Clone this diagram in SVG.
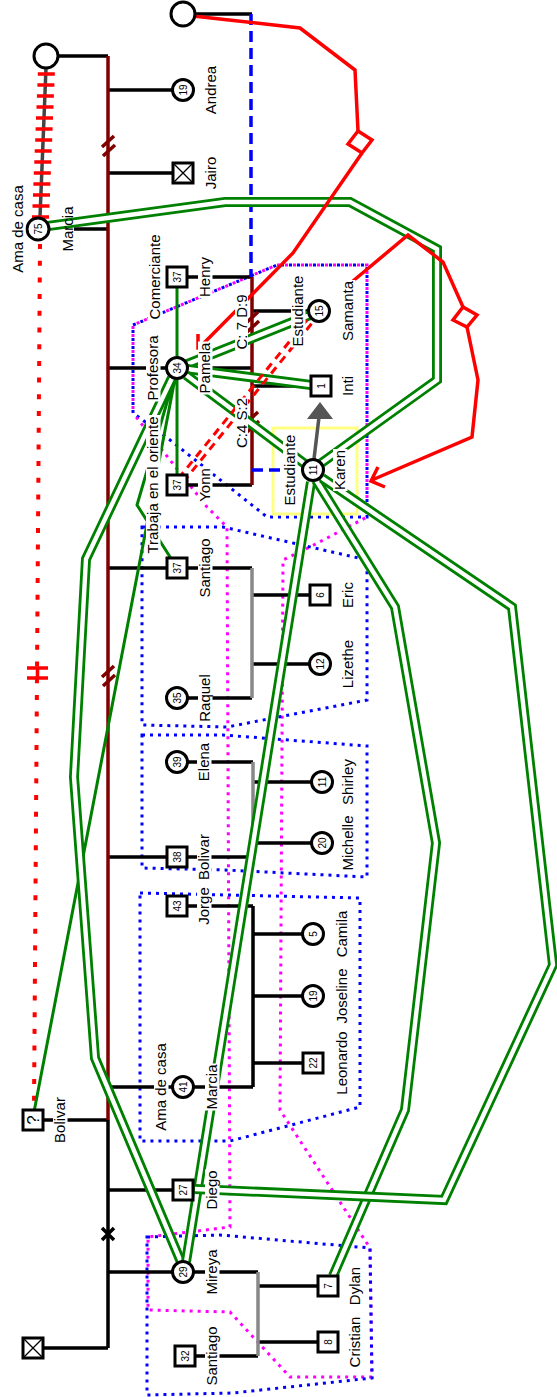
<svg xmlns="http://www.w3.org/2000/svg" width="557" height="1397" viewBox="0 0 557 1397">
<defs>
<style>
.t{font-family:"Liberation Sans",Arial,sans-serif;font-size:15px;fill:#000;text-anchor:middle;dominant-baseline:central}
.n{font-family:"Liberation Sans",Arial,sans-serif;font-size:10px;fill:#000;text-anchor:middle;dominant-baseline:central}
.q{font-family:"Liberation Sans",Arial,sans-serif;font-size:17px;fill:#000;text-anchor:middle;dominant-baseline:central}
.bg{fill:#fff}
.sh{fill:#fff;stroke:#000;stroke-width:3}
.x{stroke:#000;stroke-width:1.3;fill:none}
.k{stroke:#000;stroke-width:3.5;fill:none}
.br{stroke:#800000;stroke-width:3.5;fill:none}
.gy{stroke:#888;stroke-width:3.5;fill:none}
.g1{stroke:#008000;stroke-width:3;fill:none}
.g2{stroke:#008000;stroke-width:10;fill:none;stroke-linejoin:miter}
.g2w{stroke:#fff;stroke-width:4.4;fill:none;stroke-linejoin:miter}
.r{stroke:#f00;stroke-width:3.5;fill:none}
.rw{stroke:#f00;stroke-width:3.5;fill:#fff}
.rd{stroke:#f00;stroke-width:3;stroke-dasharray:8 6;fill:none}
.rdot{stroke:#f00;stroke-width:4;stroke-dasharray:5 11.7;fill:none}
.bd{stroke:#00f;stroke-width:3.5;stroke-dasharray:11 6;fill:none}
.bb{stroke:#00f;stroke-width:3;stroke-dasharray:3 5;fill:none}
.mb{stroke:#f0f;stroke-width:3;stroke-dasharray:3 5;stroke-dashoffset:4;fill:none}
.yb{stroke:#ffff80;stroke-width:3;fill:none}
</style>
<path id="gA" d="M48,226 L225,202 L350,202 L437,249 L437,380 L320,464"/>
<path id="gB" d="M322,478 L512,607 L553,965 L444,1200 L195,1189"/>
<path id="gC" d="M316,480 L395,607 L436,843 L405,1110 L333,1276"/>
<path id="gD" d="M311,482 L186,1262"/>
<path id="gE" d="M172,378 L86,559 L74,777 L95,1058 L181,1262"/>
<path id="gF" d="M185,365 L310,315"/>
<path id="gG" d="M187,369 L311,385"/>
<path id="gH" d="M186,375 L305,464"/>
</defs>
<rect width="557" height="1397" fill="#fff"/>

<g id="boundaries">
<path class="bb" d="M133,413 L133,325 L277,265 L367,265 L367,517 L267,517 L170,440 Z"/>
<path class="mb" d="M133,413 L133,325 L277,265 L367,265 L367,517 L310,547 L283,560 L280,1110 L370,1248 L372,1377 L290,1377 L230,1312 L148,1310 L148,1237 L230,1227 L227,527 L207,507 Z"/>
<path class="bb" d="M142,527 L223,527 L367,560 L367,700 L227,727 L142,725 Z"/>
<path class="bb" d="M142,735 L223,735 L367,746 L367,877 L225,870 L142,868 Z"/>
<path class="bb" d="M140,893 L360,898 L360,1107 L230,1141 L140,1141 Z"/>
<path class="bb" d="M147,1237 L220,1235 L370,1248 L372,1378 L233,1393 L147,1395 Z"/>
<rect class="yb" x="273" y="428" width="84" height="86"/>
</g>

<g id="connectors">
<path class="k" d="M58,56 H108 M108,90 H183 M108,173 H183 M74,229 H108 M108,368 H252 M108,568 H252 M108,857 H253 M108,1087 H253 M33,1120 H108 M108,1190 H183 M108,1272 H258 M33,1348 H108 M108,1120 V1348"/>
<path class="k" d="M195,14 H252 M177,277 H252 M177,485 H252 M252,311 H319 M252,386 H321"/>
<path class="k" d="M177,698 H252 M252,595 H320 M252,664 H320 M177,762 H253 M253,782 H322 M253,843 H322"/>
<path class="k" d="M177,906 H253 M253,934 H313 M253,996 H313 M253,1063 H313 M253,906 V1087"/>
<path class="k" d="M185,1356 H258 M258,1286 H328 M258,1342 H328"/>
<path class="gy" d="M252,568 V698 M253,762 V857 M258,1272 V1356"/>
<path class="br" d="M108,56 V1120 M252,277 V485"/>
<path class="br" stroke-width="3" d="M114,136 L102,147 M115,145 L103,156 M114,666 L102,677 M115,675 L103,686 M258,312 L246,323 M259,321 L247,332 M258,412 L246,423 M259,421 L247,432"/>
<path class="k" d="M102,1228 L114,1240 M114,1228 L102,1240"/>
<path class="bd" d="M251,14 V277 M252,470 H302"/>
<path stroke="#444" stroke-width="3.5" fill="none" d="M46,68 L40,217"/>
<path class="r" stroke-width="4" d="M37.8,74 h17 M37.4,85 h17 M36.9,96 h17 M36.5,107 h17 M36,118 h17 M35.6,129 h17 M35.2,140 h17 M34.7,151 h17 M34.3,162 h17 M33.8,173 h17 M33.4,184 h17 M33,195 h17 M32.5,206 h17 M32,217 h17"/>
<path class="rdot" d="M40,244 L34,1108"/>
<path class="r" stroke-width="4" d="M27,668 H48 M27,678 H48 M37.5,668 V678"/>
<path class="g1" d="M177,277 V485 M177,368 L137,505 L172,560 M177,368 L34,1112"/>
<use href="#gE" class="g2"/><use href="#gE" class="g2w"/>
<use href="#gA" class="g2"/><use href="#gA" class="g2w"/>
<use href="#gF" class="g2"/><use href="#gF" class="g2w"/>
<use href="#gG" class="g2"/><use href="#gG" class="g2w"/>
<use href="#gH" class="g2"/><use href="#gH" class="g2w"/>
<use href="#gD" class="g2"/><use href="#gD" class="g2w"/>
<use href="#gC" class="g2"/><use href="#gC" class="g2w"/>
<use href="#gB" class="g2"/><use href="#gB" class="g2w"/>
<path class="r" d="M193,16 L300,28 L355,70 L358,131 M362,153 L293,253 L199,348 M198,334 L198,348 L212,348"/>
<polygon class="rw" points="358,131 372,140 362,153 348,144"/>
<path class="r" d="M353,281 L408,235 L443,262 L463,307 M467,327 L478,380 L472,437 L372,480 M378,467 L371,481 L385,487"/>
<polygon class="rw" points="463,307 477,315 467,327 453,320"/>
<path class="rd" d="M320.3,312.9 L179.3,486.9 M315.7,309.1 L174.7,483.1"/>
<path stroke="#555" stroke-width="3.5" d="M314,459 L319,417"/>
<polygon fill="#555" points="320,402 307,419 333,419"/>
</g>

<g id="relation-labels">
<g transform="translate(241,322) rotate(-90)"><rect class="bg" x="-28" y="-6" width="56" height="13"/><text class="t">C: 7 D:9</text></g>
<g transform="translate(241,423) rotate(-90)"><rect class="bg" x="-25.5" y="-6" width="51" height="13"/><text class="t">C:4 S:2</text></g>
</g>

<g id="n-top1"><circle class="sh" cx="46" cy="56" r="12"/></g>
<g id="n-top2"><circle class="sh" cx="183" cy="14" r="12"/></g>
<g id="n-andrea"><circle class="sh" cx="183" cy="90" r="10.5"/><text class="n" transform="translate(183,90) rotate(-90)">19</text>
<g transform="translate(210,90) rotate(-90)"><rect class="bg" x="-25" y="-6" width="50" height="14.5"/><text class="t">Andrea</text></g></g>
<g id="n-jairo"><rect class="sh" x="173" y="163" width="20" height="20"/><path class="x" d="M173,163 L193,183 M193,163 L173,183"/>
<g transform="translate(210,173) rotate(-90)"><rect class="bg" x="-17.5" y="-6" width="35" height="14.5"/><text class="t">Jairo</text></g></g>
<g id="n-marcia75"><circle class="sh" cx="38" cy="229" r="11"/><text class="n" transform="translate(38,229) rotate(-90)">75</text>
<text class="t" transform="translate(67,229) rotate(-90)">Marcia</text>
<g transform="translate(17,229) rotate(-90)"><rect class="bg" x="-45" y="-6" width="90" height="14.5"/><text class="t">Ama de casa</text></g></g>
<g id="n-henry"><rect class="sh" x="167" y="267" width="20" height="20"/><text class="n" transform="translate(177,277) rotate(-90)">37</text>
<g transform="translate(204,277) rotate(-90)"><rect class="bg" x="-21" y="-6" width="42" height="14.5"/><text class="t">Henry</text></g>
<g transform="translate(154,277) rotate(-90)"><rect class="bg" x="-43.5" y="-6" width="87" height="14.5"/><text class="t">Comerciante</text></g></g>
<g id="n-pamela"><circle class="sh" cx="177" cy="368" r="10.5"/><text class="n" transform="translate(177,368) rotate(-90)">34</text>
<g transform="translate(204,368) rotate(-90)"><rect class="bg" x="-26.5" y="-6" width="53" height="14.5"/><text class="t">Pamela</text></g>
<g transform="translate(152,368) rotate(-90)"><rect class="bg" x="-33.5" y="-6" width="67" height="14.5"/><text class="t">Profesora</text></g></g>
<g id="n-yonn"><rect class="sh" x="167" y="475" width="20" height="20"/><text class="n" transform="translate(177,485) rotate(-90)">37</text>
<g transform="translate(204,485) rotate(-90)"><rect class="bg" x="-18.5" y="-6" width="37" height="14.5"/><text class="t">Yonn</text></g>
<g transform="translate(152,485) rotate(-90)"><rect class="bg" x="-70" y="-6" width="140" height="14.5"/><text class="t">Trabaja en el oriente</text></g></g>
<g id="n-samanta"><circle class="sh" cx="319" cy="311" r="10.5"/><text class="n" transform="translate(319,311) rotate(-90)">15</text>
<g transform="translate(297,311) rotate(-90)"><rect class="bg" x="-36.5" y="-6" width="73" height="14.5"/><text class="t">Estudiante</text></g>
<g transform="translate(347,311) rotate(-90)"><rect class="bg" x="-31" y="-6" width="62" height="14.5"/><text class="t">Samanta</text></g></g>
<g id="n-inti"><rect class="sh" x="311" y="376" width="20" height="20"/><text class="n" transform="translate(321,386) rotate(-90)">1</text>
<g transform="translate(347,386) rotate(-90)"><rect class="bg" x="-11" y="-6" width="22" height="14.5"/><text class="t">Inti</text></g></g>
<g id="n-karen"><circle class="sh" cx="313" cy="470" r="10.5"/><text class="n" transform="translate(313,470) rotate(-90)">11</text>
<g transform="translate(289,470) rotate(-90)"><rect class="bg" x="-36.5" y="-6" width="73" height="14.5"/><text class="t">Estudiante</text></g>
<g transform="translate(339,470) rotate(-90)"><rect class="bg" x="-21" y="-6" width="42" height="14.5"/><text class="t">Karen</text></g></g>
<g id="n-santiago37"><rect class="sh" x="167" y="558" width="20" height="20"/><text class="n" transform="translate(177,568) rotate(-90)">37</text>
<g transform="translate(204,568) rotate(-90)"><rect class="bg" x="-30.5" y="-6" width="61" height="14.5"/><text class="t">Santiago</text></g></g>
<g id="n-raquel"><circle class="sh" cx="177" cy="698" r="10.5"/><text class="n" transform="translate(177,698) rotate(-90)">35</text>
<g transform="translate(204,698) rotate(-90)"><rect class="bg" x="-25" y="-6" width="50" height="14.5"/><text class="t">Raquel</text></g></g>
<g id="n-eric"><rect class="sh" x="310" y="585" width="20" height="20"/><text class="n" transform="translate(320,595) rotate(-90)">6</text>
<g transform="translate(347,595) rotate(-90)"><rect class="bg" x="-14" y="-6" width="28" height="14.5"/><text class="t">Eric</text></g></g>
<g id="n-lizethe"><circle class="sh" cx="320" cy="664" r="10.5"/><text class="n" transform="translate(320,664) rotate(-90)">12</text>
<g transform="translate(347,664) rotate(-90)"><rect class="bg" x="-25" y="-6" width="50" height="14.5"/><text class="t">Lizethe</text></g></g>
<g id="n-elena"><circle class="sh" cx="177" cy="762" r="10.5"/><text class="n" transform="translate(177,762) rotate(-90)">39</text>
<g transform="translate(203,762) rotate(-90)"><rect class="bg" x="-20" y="-6" width="40" height="14.5"/><text class="t">Elena</text></g></g>
<g id="n-bolivar38"><rect class="sh" x="167" y="847" width="20" height="20"/><text class="n" transform="translate(177,857) rotate(-90)">38</text>
<g transform="translate(203,857) rotate(-90)"><rect class="bg" x="-24" y="-6" width="48" height="14.5"/><text class="t">Bolivar</text></g></g>
<g id="n-shirley"><circle class="sh" cx="322" cy="782" r="10.5"/><text class="n" transform="translate(322,782) rotate(-90)">11</text>
<g transform="translate(347,782) rotate(-90)"><rect class="bg" x="-24" y="-6" width="48" height="14.5"/><text class="t">Shirley</text></g></g>
<g id="n-michelle"><circle class="sh" cx="322" cy="843" r="10.5"/><text class="n" transform="translate(322,843) rotate(-90)">20</text>
<g transform="translate(347,843) rotate(-90)"><rect class="bg" x="-28.5" y="-6" width="57" height="14.5"/><text class="t">Michelle</text></g></g>
<g id="n-jorge"><rect class="sh" x="167" y="896" width="20" height="20"/><text class="n" transform="translate(177,906) rotate(-90)">43</text>
<g transform="translate(203,906) rotate(-90)"><rect class="bg" x="-20" y="-6" width="40" height="14.5"/><text class="t">Jorge</text></g></g>
<g id="n-camila"><circle class="sh" cx="313" cy="934" r="10.5"/><text class="n" transform="translate(313,934) rotate(-90)">5</text>
<g transform="translate(341,934) rotate(-90)"><rect class="bg" x="-24.5" y="-6" width="49" height="14.5"/><text class="t">Camila</text></g></g>
<g id="n-joseline"><circle class="sh" cx="313" cy="996" r="10.5"/><text class="n" transform="translate(313,996) rotate(-90)">19</text>
<g transform="translate(341,996) rotate(-90)"><rect class="bg" x="-28.5" y="-6" width="57" height="14.5"/><text class="t">Joseline</text></g></g>
<g id="n-leonardo"><rect class="sh" x="303" y="1053" width="20" height="20"/><text class="n" transform="translate(313,1063) rotate(-90)">22</text>
<g transform="translate(341,1063) rotate(-90)"><rect class="bg" x="-32.5" y="-6" width="65" height="14.5"/><text class="t">Leonardo</text></g></g>
<g id="n-marcia41"><circle class="sh" cx="183" cy="1087" r="10.5"/><text class="n" transform="translate(183,1087) rotate(-90)">41</text>
<g transform="translate(160,1087) rotate(-90)"><rect class="bg" x="-45" y="-6" width="90" height="14.5"/><text class="t">Ama de casa</text></g>
<g transform="translate(211,1087) rotate(-90)"><rect class="bg" x="-23.5" y="-6" width="47" height="14.5"/><text class="t">Marcia</text></g></g>
<g id="n-bolivarq"><rect class="sh" x="23" y="1110" width="20" height="20"/><text class="q" transform="translate(33,1120) rotate(-90)">?</text>
<g transform="translate(59,1120) rotate(-90)"><rect class="bg" x="-24" y="-6" width="48" height="14.5"/><text class="t">Bolivar</text></g></g>
<g id="n-diego"><rect class="sh" x="173" y="1180" width="20" height="20"/><text class="n" transform="translate(183,1190) rotate(-90)">27</text>
<g transform="translate(211,1190) rotate(-90)"><rect class="bg" x="-20.5" y="-6" width="41" height="14.5"/><text class="t">Diego</text></g></g>
<g id="n-mireya"><circle class="sh" cx="183" cy="1272" r="10.5"/><text class="n" transform="translate(183,1272) rotate(-90)">29</text>
<g transform="translate(211,1272) rotate(-90)"><rect class="bg" x="-23.5" y="-6" width="47" height="14.5"/><text class="t">Mireya</text></g></g>
<g id="n-santiago32"><rect class="sh" x="175" y="1346" width="20" height="20"/><text class="n" transform="translate(185,1356) rotate(-90)">32</text>
<g transform="translate(211,1356) rotate(-90)"><rect class="bg" x="-30.5" y="-6" width="61" height="14.5"/><text class="t">Santiago</text></g></g>
<g id="n-dylan"><rect class="sh" x="318" y="1276" width="20" height="20"/><text class="n" transform="translate(328,1286) rotate(-90)">7</text>
<g transform="translate(354,1286) rotate(-90)"><rect class="bg" x="-20" y="-6" width="40" height="14.5"/><text class="t">Dylan</text></g></g>
<g id="n-cristian"><rect class="sh" x="318" y="1332" width="20" height="20"/><text class="n" transform="translate(328,1342) rotate(-90)">8</text>
<g transform="translate(354,1342) rotate(-90)"><rect class="bg" x="-26.5" y="-6" width="53" height="14.5"/><text class="t">Cristian</text></g></g>
<g id="n-bottom"><rect class="sh" x="23" y="1338" width="20" height="20"/><path class="x" d="M23,1338 L43,1358 M43,1338 L23,1358"/></g>
</svg>
